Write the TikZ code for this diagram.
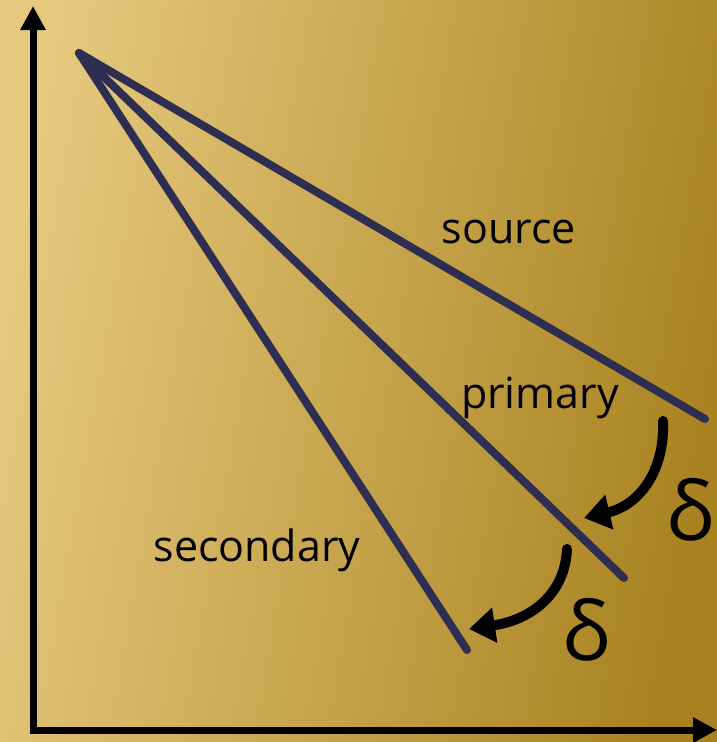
\documentclass[tikz,border=0pt]{standalone}
\usepackage{fontspec}
\setmainfont{Open Sans}
\usetikzlibrary{arrows.meta}
\definecolor{goldL}{HTML}{E6C97E}
\definecolor{goldR}{HTML}{A8821F}
\definecolor{navy}{HTML}{2E2D52}
\tikzset{
  axis/.style={line width=7pt, -{Triangle[length=24pt,width=24pt]}},
  ray/.style={navy, line width=8pt, line cap=round},
  turn/.style={line width=10pt, line cap=round, -{Triangle[length=26pt,width=34pt]}},
  lbl/.style={font=\fontsize{43}{46}\selectfont, inner sep=0pt},
  dlt/.style={font=\fontsize{82}{90}\selectfont, inner sep=0pt}
}
\begin{document}
\begin{tikzpicture}[x=1pt,y=-1pt]
\useasboundingbox (0,0) rectangle (717,742);
\shade[left color=goldL, right color=goldR, shading angle=80] (0,0) rectangle (717,742);
% axes
\coordinate (O) at (33,730);
\coordinate (Ytop) at (33,6);
\coordinate (Xend) at (717,730);
\draw[axis] ([yshift=3.5pt]O) -- (Ytop);
\draw[axis] ([xshift=-3.5pt]O) -- (Xend);
% rays
\coordinate (A) at (79,53);
\coordinate (S) at (705,419);
\coordinate (P) at (624,578);
\coordinate (Q) at (467,650);
\draw[ray] (A) -- (S);
\draw[ray] (A) -- (P);
\draw[ray] (A) -- (Q);
% labels
\node[lbl] (ls) at (509,232) {source};
\node[lbl] (lp) at (540,398) {primary};
\node[lbl] (lq) at (257,550) {secondary};
% curved arrows
\coordinate (c1s) at (663,421);
\coordinate (c1e) at (584,518);
\coordinate (c2s) at (567,549);
\coordinate (c2e) at (469,629);
\draw[turn] (c1s) .. controls (665,470) and (640,505) .. (c1e);
\draw[turn] (c2s) .. controls (565,595) and (530,620) .. (c2e);
\node[dlt] (d1) at (690,510) {δ};
\node[dlt] (d2) at (586,630) {δ};
\end{tikzpicture}
\end{document}
